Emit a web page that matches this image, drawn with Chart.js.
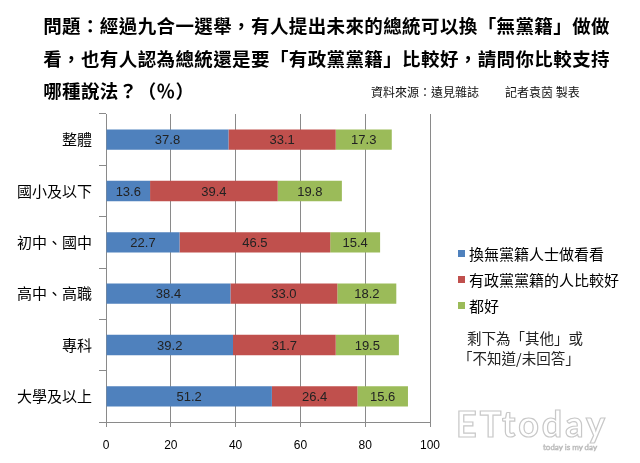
<!DOCTYPE html>
<html>
<head>
<meta charset="utf-8">
<script src="https://cdn.jsdelivr.net/npm/chart.js@4"></script>
<style>
  html, body { margin:0; padding:0; background:#fff; }
  #wrap { position:relative; width:640px; height:463px; overflow:hidden; background:#fff; }
  #c { position:absolute; left:0; top:0; }
  .t { position:absolute; white-space:nowrap; font-family:"Noto Sans CJK TC","Noto Sans CJK SC",sans-serif; color:#000; text-spacing-trim: space-all; }
  .title { font-weight:bold; font-size:18.5px; line-height:20px; left:43px; }
  .title span { display:inline-block; width:18.9px; text-align:center; }
  .small { font-size:12px; line-height:14px; color:#111; }
  .leg { font-size:15px; line-height:18px; left:458px; }
  .leg span.sw { display:inline-block; width:7px; height:7px; margin-right:4px; vertical-align:middle; position:relative; top:-2px; }
  .note { font-size:14.5px; line-height:18px; color:#222; }
  #wm { position:absolute; left:456px; top:403px; font-family:"Lato","Open Sans",sans-serif; font-size:36px; font-weight:bold; letter-spacing:3px; color:#fff; -webkit-text-stroke:1.2px #c8c8c8; line-height:40px; }
  #wm2 { position:absolute; left:543px; top:442px; font-family:"Lato",sans-serif; font-size:8px; color:#fff; -webkit-text-stroke:0.6px #bbb; }
</style>
</head>
<body>
<div id="wrap">
  <canvas id="c" width="640" height="463"></canvas>
  <div class="t title" style="top:15px">問題：經過九合一選舉，有人提出未來的總統可以換「無黨籍」做做</div>
  <div class="t title" style="top:48px">看，也有人認為總統還是要「有政黨黨籍」比較好，請問你比較支持</div>
  <div class="t title" style="top:80px">哪種說法？（％）</div>
  <div class="t small" style="left:371px;top:85px">資料來源：遠見雜誌</div>
  <div class="t small" style="left:505px;top:85px">記者袁茵 製表</div>
  <div id="legend"></div>
  <div class="t note" style="left:467px;top:329px">剩下為「其他」或</div>
  <div class="t note" style="left:458px;top:349px">「不知道/未回答」</div>
  <div id="wm">ETtoday</div>
  <div id="wm2">today is my day</div>
</div>
<script>
const categories = ["整體", "國小及以下", "初中、國中", "高中、高職", "專科", "大學及以上"];
const seriesNames = ["換無黨籍人士做看看", "有政黨黨籍的人比較好", "都好"];
const nonPartisan = [37.8, 13.6, 22.7, 38.4, 39.2, 51.2];
const partisan    = [33.1, 39.4, 46.5, 33.0, 31.7, 26.4];
const either      = [17.3, 19.8, 15.4, 18.2, 19.5, 15.6];
const xTicks = [0, 20, 40, 60, 80, 100];

const colors = ["#4F81BD", "#C0504D", "#9BBB59"];
const seriesValues = [nonPartisan, partisan, either];

// fixed-width title characters (full-width layout)
document.querySelectorAll('.title').forEach(el => {
  const txt = el.textContent;
  el.textContent = '';
  for (const ch of txt) {
    const s = document.createElement('span');
    s.textContent = ch;
    el.appendChild(s);
  }
});

// HTML legend
const legendEl = document.getElementById('legend');
const legTops = [245, 271, 297];
seriesNames.forEach((n, i) => {
  const d = document.createElement('div');
  d.className = 't leg';
  d.style.top = legTops[i] + 'px';
  d.innerHTML = '<span class="sw" style="background:' + colors[i] + '"></span>' + n;
  legendEl.appendChild(d);
});

const labelPlugin = {
  id: 'segLabels',
  afterDatasetsDraw(chart) {
    const ctx = chart.ctx;
    ctx.save();
    ctx.font = '13px "Liberation Sans", Arial, sans-serif';
    ctx.fillStyle = '#222';
    ctx.textAlign = 'center';
    ctx.textBaseline = 'middle';
    chart.data.datasets.forEach((ds, di) => {
      const meta = chart.getDatasetMeta(di);
      meta.data.forEach((el, i) => {
        const cx = (el.x + el.base) / 2;
        ctx.fillText(ds.data[i].toFixed(1), cx, el.y + 1);
      });
    });
    ctx.restore();
  }
};

new Chart(document.getElementById('c'), {
  type: 'bar',
  data: {
    labels: categories,
    datasets: seriesValues.map((v, i) => ({
      label: seriesNames[i],
      data: v,
      backgroundColor: colors[i],
      borderWidth: 0,
      categoryPercentage: 1,
      barPercentage: 0.395
    }))
  },
  options: {
    indexAxis: 'y',
    responsive: false,
    animation: false,
    devicePixelRatio: 1,
    layout: { padding: { top: 114, right: 210, left: 0, bottom: 0 } },
    plugins: { legend: { display: false }, tooltip: { enabled: false }, title: { display: false } },
    scales: {
      x: {
        stacked: true,
        min: 0, max: 100,
        afterBuildTicks(scale) { scale.ticks = xTicks.map(v => ({ value: v })); },
        afterFit(scale) { scale.height = 41; },
        grid: { color: '#8a8a8a', lineWidth: 1, tickLength: 5, drawTicks: true },
        border: { color: '#8a8a8a', width: 1 },
        ticks: { color: '#000', font: { size: 12, family: '"Liberation Sans", Arial, sans-serif' }, padding: 11, maxRotation: 0 }
      },
      y: {
        stacked: true,
        afterFit(scale) { scale.width = 106; },
        grid: { drawOnChartArea: false, drawTicks: true, tickLength: 7, color: '#8a8a8a' },
        border: { color: '#8a8a8a', width: 1 },
        ticks: { color: '#000', font: { size: 15, family: '"Noto Sans CJK TC", sans-serif' }, padding: 7 }
      }
    }
  },
  plugins: [labelPlugin]
});
</script>
</body>
</html>
